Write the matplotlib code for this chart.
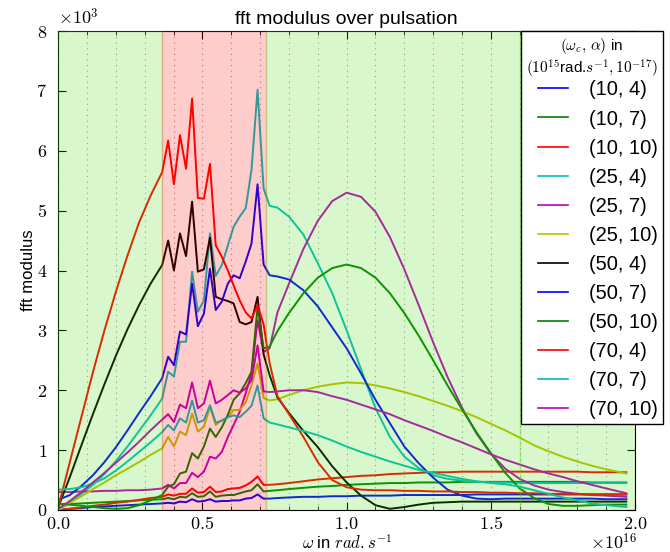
import matplotlib
matplotlib.use("Agg")
import matplotlib.pyplot as plt
from matplotlib.ticker import MultipleLocator, FuncFormatter
from matplotlib.legend_handler import HandlerLine2D
from matplotlib.lines import Line2D

plt.rcParams["font.family"] = ["Liberation Sans", "DejaVu Sans"]
plt.rcParams["mathtext.fontset"] = "cm"

# pulsation in 1e16 rad/s (left zone, noisy zone, right zone)
omega = [0.00, 0.04, 0.08, 0.12, 0.16, 0.20, 0.24, 0.28, 0.32,
         0.360, 0.381, 0.401, 0.422, 0.443, 0.464, 0.484, 0.505, 0.526,
         0.546, 0.567, 0.588, 0.608, 0.629, 0.650, 0.670, 0.691, 0.712,
         0.733, 0.76, 0.80, 0.85, 0.90, 0.95, 1.00, 1.05, 1.10, 1.15, 1.20,
         1.25, 1.30, 1.35, 1.40, 1.45, 1.50, 1.55, 1.60, 1.65, 1.70, 1.75,
         1.80, 1.85, 1.90, 1.97]

# fft modulus in 1e3
fft_10_4 = [0.00, 0.02, 0.03, 0.05, 0.06, 0.07, 0.08, 0.09, 0.10,
            0.11, 0.12, 0.11, 0.14, 0.13, 0.18, 0.14, 0.15, 0.18,
            0.14, 0.15, 0.15, 0.16, 0.16, 0.19, 0.20, 0.26, 0.19,
            0.19, 0.20, 0.21, 0.22, 0.22, 0.23, 0.23, 0.24, 0.24, 0.24, 0.25,
            0.25, 0.25, 0.25, 0.25, 0.26, 0.26, 0.26, 0.26, 0.26, 0.26, 0.26,
            0.26, 0.26, 0.26, 0.26]
fft_10_7 = [0.10, 0.10, 0.11, 0.12, 0.13, 0.14, 0.15, 0.16, 0.17,
            0.18, 0.20, 0.18, 0.22, 0.21, 0.28, 0.22, 0.23, 0.31,
            0.22, 0.24, 0.25, 0.25, 0.28, 0.31, 0.33, 0.43, 0.31,
            0.32, 0.33, 0.35, 0.37, 0.39, 0.40, 0.42, 0.43, 0.44, 0.45, 0.45,
            0.46, 0.46, 0.46, 0.47, 0.47, 0.47, 0.47, 0.47, 0.47, 0.47, 0.47,
            0.47, 0.46, 0.46, 0.46]
fft_10_10 = [0.00, 0.02, 0.04, 0.07, 0.09, 0.12, 0.14, 0.17, 0.20,
             0.22, 0.26, 0.24, 0.27, 0.27, 0.36, 0.29, 0.30, 0.39,
             0.30, 0.31, 0.35, 0.36, 0.37, 0.41, 0.47, 0.56, 0.42,
             0.42, 0.43, 0.45, 0.48, 0.51, 0.53, 0.55, 0.57, 0.58, 0.60, 0.61,
             0.62, 0.63, 0.63, 0.64, 0.64, 0.64, 0.64, 0.64, 0.64, 0.64, 0.64,
             0.64, 0.63, 0.63, 0.63]
fft_25_4 = [0.00, 0.12, 0.27, 0.42, 0.60, 0.82, 1.06, 1.32, 1.58,
            1.86, 2.31, 2.23, 2.81, 2.81, 3.98, 3.31, 3.50, 4.62,
            3.91, 4.09, 4.42, 4.73, 4.90, 5.04, 5.68, 7.02, 5.37,
            5.08, 5.05, 4.90, 4.60, 4.12, 3.62, 3.00, 2.35, 1.70, 1.22, 0.89,
            0.70, 0.58, 0.52, 0.49, 0.47, 0.46, 0.46, 0.45, 0.45, 0.45, 0.45,
            0.45, 0.45, 0.45, 0.45]
fft_25_7 = [0.30, 0.30, 0.31, 0.31, 0.32, 0.32, 0.33, 0.33, 0.34,
            0.36, 0.42, 0.36, 0.45, 0.45, 0.62, 0.55, 0.64, 0.89,
            0.86, 0.97, 1.22, 1.42, 1.64, 1.95, 2.28, 3.17, 2.64,
            2.70, 3.30, 3.78, 4.36, 4.83, 5.16, 5.30, 5.23, 4.98, 4.56, 4.02,
            3.42, 2.80, 2.22, 1.71, 1.28, 0.94, 0.69, 0.52, 0.41, 0.34, 0.30,
            0.27, 0.25, 0.24, 0.22]
fft_25_10 = [0.00, 0.12, 0.23, 0.35, 0.46, 0.58, 0.69, 0.80, 0.92,
             1.03, 1.22, 1.06, 1.31, 1.25, 1.61, 1.31, 1.39, 1.72,
             1.42, 1.50, 1.55, 1.67, 1.67, 1.80, 2.08, 2.45, 1.87,
             1.83, 1.85, 1.92, 2.00, 2.06, 2.10, 2.13, 2.12, 2.08, 2.03, 1.97,
             1.90, 1.82, 1.74, 1.65, 1.55, 1.44, 1.33, 1.21, 1.08, 0.98, 0.89,
             0.81, 0.74, 0.68, 0.61]
fft_50_4 = [0.05, 0.55, 1.08, 1.60, 2.10, 2.58, 3.02, 3.42, 3.78,
            4.09, 4.50, 4.00, 4.62, 4.24, 5.15, 3.98, 4.02, 4.55,
            3.56, 3.52, 3.49, 3.45, 3.14, 3.10, 3.14, 3.56, 2.60,
            2.25, 1.88, 1.62, 1.32, 1.05, 0.73, 0.46, 0.24, 0.08, 0.02, 0.05,
            0.09, 0.12, 0.13, 0.14, 0.14, 0.14, 0.14, 0.14, 0.14, 0.14, 0.14,
            0.14, 0.14, 0.14, 0.14]
fft_50_7 = [0.17, 0.25, 0.40, 0.58, 0.80, 1.05, 1.33, 1.62, 1.90,
            2.20, 2.56, 2.42, 2.98, 2.93, 3.78, 3.07, 3.28, 4.03,
            3.34, 3.48, 3.78, 3.92, 3.87, 4.15, 4.45, 5.44, 4.10,
            3.92, 3.90, 3.85, 3.67, 3.40, 3.05, 2.70, 2.28, 1.84, 1.45, 1.06,
            0.78, 0.54, 0.34, 0.24, 0.19, 0.18, 0.19, 0.19, 0.19, 0.19, 0.19,
            0.19, 0.19, 0.18, 0.18]
fft_50_10 = [0.10, 0.09, 0.07, 0.05, 0.03, 0.02, 0.03, 0.08, 0.16,
             0.25, 0.39, 0.43, 0.61, 0.64, 0.95, 0.86, 1.06, 1.36,
             1.22, 1.38, 1.59, 1.84, 1.95, 2.12, 2.31, 3.39, 2.70,
             2.73, 2.99, 3.29, 3.62, 3.88, 4.04, 4.10, 4.04, 3.88, 3.62, 3.29,
             2.91, 2.50, 2.08, 1.68, 1.30, 0.95, 0.62, 0.36, 0.20, 0.10, 0.07,
             0.07, 0.08, 0.09, 0.09]
fft_70_4 = [0.05, 0.80, 1.55, 2.30, 3.00, 3.65, 4.25, 4.80, 5.25,
            5.64, 6.17, 5.44, 6.26, 5.70, 6.87, 5.21, 5.20, 5.78,
            4.42, 4.23, 4.00, 3.75, 3.50, 3.30, 3.20, 3.42, 3.10,
            2.45, 1.90, 1.60, 1.22, 0.80, 0.50, 0.38, 0.34, 0.33, 0.33, 0.32,
            0.32, 0.31, 0.31, 0.30, 0.30, 0.29, 0.29, 0.28, 0.28, 0.27, 0.27,
            0.27, 0.26, 0.26, 0.26]
fft_70_7 = [0.34, 0.35, 0.38, 0.44, 0.53, 0.66, 0.81, 0.97, 1.13,
            1.30, 1.42, 1.33, 1.53, 1.46, 1.83, 1.46, 1.50, 1.75,
            1.46, 1.49, 1.55, 1.58, 1.55, 1.64, 1.74, 2.08, 1.53,
            1.46, 1.43, 1.38, 1.32, 1.25, 1.16, 1.06, 0.97, 0.89, 0.81, 0.74,
            0.67, 0.62, 0.57, 0.52, 0.48, 0.45, 0.43, 0.39, 0.33, 0.27, 0.21,
            0.16, 0.11, 0.08, 0.05]
fft_70_10 = [0.02, 0.15, 0.30, 0.46, 0.62, 0.79, 0.96, 1.14, 1.33,
             1.51, 1.60, 1.47, 1.76, 1.70, 2.13, 1.70, 1.78, 2.16,
             1.78, 1.84, 1.92, 2.00, 1.96, 2.03, 2.17, 2.75, 1.98,
             1.97, 1.98, 2.00, 2.00, 1.97, 1.90, 1.84, 1.76, 1.68, 1.60, 1.50,
             1.41, 1.32, 1.22, 1.13, 1.03, 0.93, 0.84, 0.76, 0.68, 0.61, 0.55,
             0.48, 0.42, 0.36, 0.28]

series = [fft_10_4, fft_10_7, fft_10_10, fft_25_4, fft_25_7, fft_25_10,
          fft_50_4, fft_50_7, fft_50_10, fft_70_4, fft_70_7, fft_70_10]
labels = ["(10, 4)", "(10, 7)", "(10, 10)", "(25, 4)", "(25, 7)", "(25, 10)",
          "(50, 4)", "(50, 7)", "(50, 10)", "(70, 4)", "(70, 7)", "(70, 10)"]
colors = ["b", "g", "r", "c", "m", "y", "k", "b", "g", "r", "c", "m"]

# zones along omega
green = (0.27, 0.86, 0.0)
zones = [(0.0, 0.36, green), (0.36, 0.72, "red"), (0.72, 1.6, green), (1.6, 2.0, green)]

fig = plt.figure(figsize=(6.7, 5.52), dpi=100)
ax = fig.add_axes([58.3 / 670, 1 - 510 / 552, (635 - 58.3) / 670, (510 - 31) / 552])

for y, lab, c in zip(series, labels, colors):
    ax.plot(omega, y, color=c, lw=1.4, label=lab, zorder=2)

# the coloured zones are laid over the curves
for x0, x1, c in zones:
    ax.axvspan(x0, x1, color=c, alpha=0.2, lw=1, zorder=3)

ax.set_xlim(0, 2.0)
ax.set_ylim(0, 8)
ax.xaxis.set_major_locator(MultipleLocator(0.5))
ax.xaxis.set_minor_locator(MultipleLocator(0.1))
ax.yaxis.set_major_locator(MultipleLocator(1))
ax.xaxis.set_major_formatter(FuncFormatter(lambda v, p: "$%.1f$" % v))
ax.yaxis.set_major_formatter(FuncFormatter(lambda v, p: "$%d$" % v))
ax.tick_params(which="both", direction="in", top=True, right=True, labelsize=13)
ax.tick_params(which="major", length=6)
ax.tick_params(which="minor", length=3)
ax.tick_params(axis="y", pad=8)
ax.tick_params(axis="x", pad=4)
ax.grid(True, which="both", axis="x", color="0.6", linestyle=(0, (1, 4)), lw=0.8)

ax.set_title("fft modulus over pulsation", fontsize=14, pad=5)
ax.set_xlabel(r"$\omega$ in $rad.s^{-1}$", fontsize=12)
ax.xaxis.set_label_coords(0.5, -0.048)
ax.set_ylabel("fft modulus", fontsize=12)
ax.yaxis.set_label_coords(-0.038, 0.5)
fig.text(58 / 670, 1 - 18 / 552, r"$\times10^{3}$", fontsize=13, va="center", ha="left")
fig.text(637 / 670, 1 - 543 / 552, r"$\times10^{16}$", fontsize=13, va="center", ha="right")

leg = ax.legend(loc="upper left", bbox_to_anchor=(0.802, 1.0), borderaxespad=0,
                fontsize=14.5, title="$(\\omega_c,\\, \\alpha)$ in\n$(10^{15}$rad.$s^{-1}, 10^{-17})$",
                title_fontsize=11, fancybox=False, framealpha=1, edgecolor="black",
                labelspacing=0.5, handlelength=2.1, handletextpad=1.05, borderpad=0.25,
                handler_map={Line2D: HandlerLine2D(xpad=0.62)})
leg.get_frame().set_linewidth(1.0)
leg.get_title().set_multialignment("center")
leg.get_title().set_linespacing(1.1)
leg._legend_box.sep = 0.5
for h in leg.get_lines():
    h.set_linewidth(1.2)
leg.set_zorder(10)

fig.savefig("out.png", dpi=100)
